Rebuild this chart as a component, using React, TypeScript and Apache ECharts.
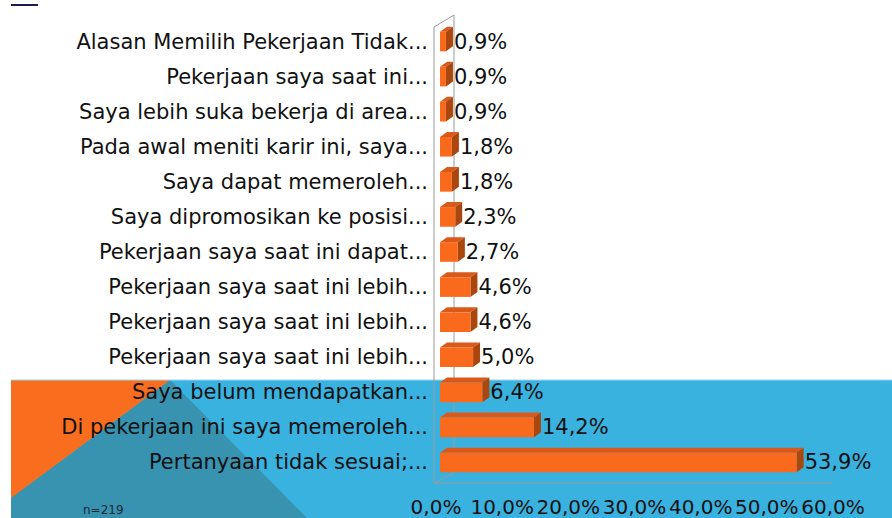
import React, { useEffect, useRef } from "react";
import * as echarts from "echarts";

const categories = [
  "Alasan Memilih Pekerjaan Tidak...",
  "Pekerjaan saya saat ini...",
  "Saya lebih suka bekerja di area...",
  "Pada awal meniti karir ini, saya...",
  "Saya dapat memeroleh...",
  "Saya dipromosikan ke posisi...",
  "Pekerjaan saya saat ini dapat...",
  "Pekerjaan saya saat ini lebih...",
  "Pekerjaan saya saat ini lebih...",
  "Pekerjaan saya saat ini lebih...",
  "Saya belum mendapatkan...",
  "Di pekerjaan ini saya memeroleh...",
  "Pertanyaan tidak sesuai;...",
];
const values = [0.9, 0.9, 0.9, 1.8, 1.8, 2.3, 2.7, 4.6, 4.6, 5.0, 6.4, 14.2, 53.9];
const xTicks = { min: 0, max: 60, interval: 10 };
const noteText = "n=219";

const FONT = "DejaVu Sans";
const fmt = (v: number) => v.toFixed(1).replace(".", ",") + "%";

export default function App() {
  const ref = useRef<HTMLDivElement>(null);
  useEffect(() => {
    if (!ref.current) return;
    const chart = echarts.init(ref.current, null, { renderer: "svg" });
    const front = "#F96A1C";
    const topC = "#D9581A";
    const sideC = "#A9470F";
    const wall = "#9A9A9A";
    chart.setOption({
      animation: false,
      backgroundColor: "#ffffff",
      grid: { left: 440, right: 55, top: 24, bottom: 38, containLabel: false },
      xAxis: {
        type: "value",
        min: xTicks.min,
        max: xTicks.max,
        interval: xTicks.interval,
        splitLine: { show: false },
        axisLine: { show: false },
        axisTick: { show: false },
        axisLabel: {
          formatter: (v: number) => fmt(v),
          fontFamily: FONT,
          fontSize: 20,
          color: "#111",
          margin: 17,
          padding: [0, 8, 0, 0],
          hideOverlap: false,
          showMinLabel: true,
          showMaxLabel: true,
        },
      },
      yAxis: {
        type: "category",
        inverse: true,
        data: categories,
        axisLine: { show: false },
        axisTick: { show: false },
        splitLine: { show: false },
        axisLabel: {
          fontFamily: FONT,
          fontSize: 21,
          color: "#111",
          margin: 12,
          interval: 0,
        },
      },
      graphic: [
        { type: "rect", z: -10, shape: { x: 11, y: 380, width: 881, height: 138 }, style: { fill: "#3AB2E0" } },
        { type: "polygon", z: -9, shape: { points: [[170, 380], [307, 518], [11, 518], [11, 498]] }, style: { fill: "#3893B1" } },
        { type: "polygon", z: -9, shape: { points: [[11, 380], [170, 380], [11, 498]] }, style: { fill: "#F96D1E" } },
        { type: "line", z: -8, shape: { x1: 11, y1: 380, x2: 892, y2: 380 }, style: { stroke: "#9BD6EE", lineWidth: 1 } },
        { type: "line", z: -8, shape: { x1: 11, y1: 5, x2: 38, y2: 5 }, style: { stroke: "#1C1C4A", lineWidth: 2 } },
        { type: "polyline", z: 1, shape: { points: [[434, 483], [434, 27], [454, 15], [454, 473]] }, style: { stroke: wall, lineWidth: 1, fill: "none" } },
        { type: "polyline", z: 1, shape: { points: [[454, 473], [434, 483], [832, 483]] }, style: { stroke: wall, lineWidth: 1, fill: "none" } },
        { type: "text", z: 5, left: 83, top: 504, style: { text: noteText, font: `12px ${FONT}`, fill: "#1a2a35" } },
      ],
      series: [
        {
          type: "custom",
          z: 3,
          data: values.map((v, i) => [v, i]),
          encode: { x: 0, y: 1 },
          renderItem: (params: any, api: any) => {
            const val = api.value(0);
            const cat = api.value(1);
            const s = api.coord([0, cat]);
            const e = api.coord([val, cat]);
            const h = api.size([0, 1])[1] * 0.56;
            const x0 = s[0];
            const x1 = e[0];
            const yc = s[1];
            const top = yc - h / 2;
            const bot = yc + h / 2;
            const dx = 7;
            const dy = 5;
            return {
              type: "group",
              children: [
                { type: "polygon", shape: { points: [[x0, top], [x1, top], [x1 + dx, top - dy], [x0 + dx, top - dy]] }, style: { fill: topC } },
                { type: "polygon", shape: { points: [[x1, top], [x1 + dx, top - dy], [x1 + dx, bot - dy], [x1, bot]] }, style: { fill: sideC } },
                { type: "rect", shape: { x: x0, y: top, width: x1 - x0, height: h }, style: { fill: front } },
                {
                  type: "text",
                  style: {
                    text: fmt(val),
                    x: x1 + dx + 1,
                    y: yc,
                    verticalAlign: "middle",
                    align: "left",
                    font: `21px ${FONT}`,
                    fill: "#111",
                  },
                },
              ],
            };
          },
        },
      ],
    });
    return () => chart.dispose();
  }, []);
  return <div ref={ref} style={{ position: "absolute", left: 0, top: 0, width: 892, height: 518 }} />;
}
